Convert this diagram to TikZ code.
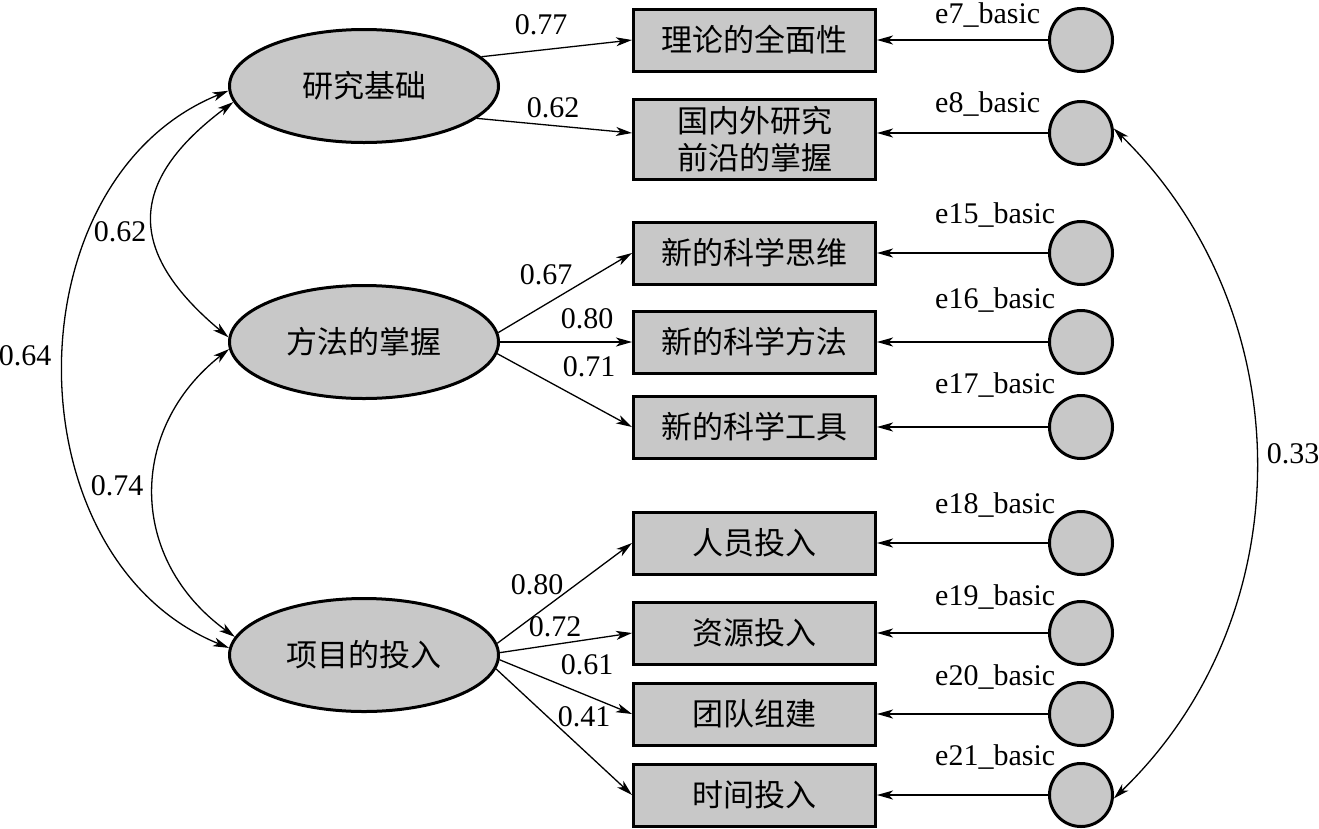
\documentclass[tikz,border=0pt]{standalone}
\usepackage{fontspec}
\setmainfont{Liberation Serif}
\newfontfamily\cjk{Noto Sans CJK SC}
\usetikzlibrary{shapes.geometric,arrows.meta}
\definecolor{fillg}{RGB}{200,200,200}
\begin{document}
\begin{tikzpicture}[x=1pt,y=-1pt,
  latent/.style={ellipse,draw,line width=3pt,fill=fillg,minimum width=269pt,minimum height=113pt,inner sep=0pt,font=\cjk\fontsize{31}{37}\selectfont},
  obs/.style={rectangle,draw,line width=3pt,fill=fillg,minimum width=242pt,minimum height=62pt,inner sep=0pt,align=center,font=\cjk\fontsize{31}{37}\selectfont},
  err/.style={circle,draw,line width=3pt,fill=fillg,minimum size=63pt,inner sep=0pt},
  tip/.tip={Stealth[length=16pt,width=9pt,inset=4.5pt]},
  pathar/.style={line width=1.3pt,-tip},
  cov/.style={line width=1.3pt,tip-tip},
  coef/.style={font=\fontsize{30}{36}\selectfont,inner sep=0pt},
  elab/.style={anchor=base west,font=\fontsize{30}{36}\selectfont,inner sep=0pt}]
\useasboundingbox (0,0) rectangle (1319,828);
\fill[white] (0,0) rectangle (1319,828);

% latent variables
\node[latent] (r) at (364,86) {研究基础};
\node[latent] (m) at (364,342) {方法的掌握};
\node[latent] (p) at (364,655) {项目的投入};

% observed variables
\node[obs] (b1) at (754.5,40) {理论的全面性};
\node[obs,minimum height=80pt] (b2) at (754.5,139.5) {国内外研究\\前沿的掌握};
\node[obs] (b3) at (754.5,253) {新的科学思维};
\node[obs] (b4) at (754.5,342) {新的科学方法};
\node[obs] (b5) at (754.5,427) {新的科学工具};
\node[obs] (b6) at (754.5,543) {人员投入};
\node[obs] (b7) at (754.5,633) {资源投入};
\node[obs] (b8) at (754.5,714) {团队组建};
\node[obs] (b9) at (754.5,795) {时间投入};

% error terms
\node[err] (e7) at (1081,40) {};
\node[err] (e8) at (1081,133) {};
\node[err] (e15) at (1081,253) {};
\node[err] (e16) at (1081,342) {};
\node[err] (e17) at (1081,427) {};
\node[err] (e18) at (1081,543) {};
\node[err] (e19) at (1081,633) {};
\node[err] (e20) at (1081,714) {};
\node[err] (e21) at (1081,795) {};

\node[elab] (l7) at (935,23) {e7\_basic};
\node[elab] (l8) at (935,112) {e8\_basic};
\node[elab] (l15) at (935,223) {e15\_basic};
\node[elab] (l16) at (935,308) {e16\_basic};
\node[elab] (l17) at (935,393) {e17\_basic};
\node[elab] (l18) at (935,513) {e18\_basic};
\node[elab] (l19) at (935,605) {e19\_basic};
\node[elab] (l20) at (935,685) {e20\_basic};
\node[elab] (l21) at (935,765) {e21\_basic};

% error arrows
\draw[pathar] (e7) -- (b1.east);
\draw[pathar] (e8) -- (e8 -| b2.east);
\draw[pathar] (e15) -- (b3.east);
\draw[pathar] (e16) -- (b4.east);
\draw[pathar] (e17) -- (b5.east);
\draw[pathar] (e18) -- (b6.east);
\draw[pathar] (e19) -- (b7.east);
\draw[pathar] (e20) -- (b8.east);
\draw[pathar] (e21) -- (b9.east);

% loadings
\draw[pathar] (r.14) -- (b1.west);
\draw[pathar] (r.-16) -- (b2.west |- e8);
\draw[pathar] (m.4) -- (b3.west);
\draw[pathar] (m.east) -- (b4.west);
\draw[pathar] (m.-5) -- (b5.west);
\draw[pathar] (p.5) -- (b6.west);
\draw[pathar] (p.1) -- (b7.west);
\draw[pathar] (p.-2) -- (b8.west);
\draw[pathar] (p.-6) -- (b9.west);

\node[coef] (c1) at (541,25) {0.77};
\node[coef] (c2) at (553,108) {0.62};
\node[coef] (c3) at (546,275) {0.67};
\node[coef] (c4) at (587,319) {0.80};
\node[coef] (c5) at (589,367) {0.71};
\node[coef] (c6) at (537,585) {0.80};
\node[coef] (c7) at (555,627) {0.72};
\node[coef] (c8) at (587,665) {0.61};
\node[coef] (c9) at (584,717) {0.41};

% covariances
\draw[cov] (r.182) .. controls (8.5,180) and (9.5,559) .. (p.177);
\draw[cov] (r.187) .. controls (126.5,182) and (126.5,252) .. (m.178);
\draw[cov] (m.183) .. controls (127.7,429) and (127.7,559) .. (p.172);
\draw[cov] (e8.8) .. controls (1302,313) and (1304,615) .. (e21.-6);

\node[coef] (k1) at (120,232) {0.62};
\node[coef] (k2) at (25,356) {0.64};
\node[coef] (k3) at (117,486) {0.74};
\node[coef] (k4) at (1293,454) {0.33};
\end{tikzpicture}
\end{document}
